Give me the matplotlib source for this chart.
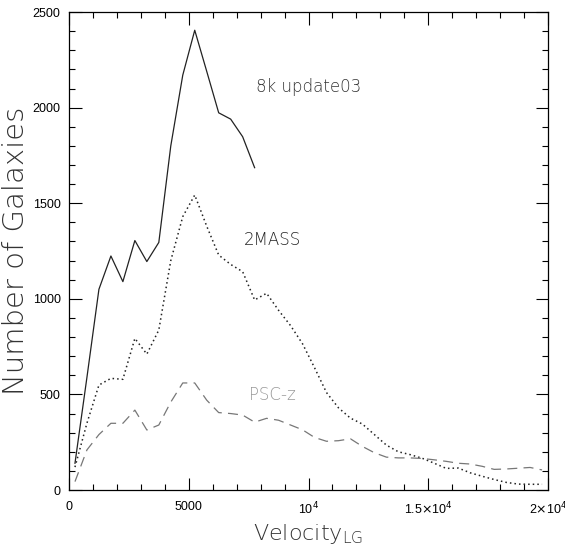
import numpy as np
import matplotlib
matplotlib.use("Agg")
import matplotlib.pyplot as plt
from matplotlib.ticker import MultipleLocator, FixedLocator, FixedFormatter

# bin centres (km/s)
vel_8k = [250, 750, 1250, 1750, 2250, 2750, 3250, 3750, 4250, 4750, 5250,
          5750, 6250, 6750, 7250, 7750]
n_8k = [140, 590, 1050, 1224, 1090, 1305, 1195, 1295, 1800, 2170, 2405,
        2190, 1973, 1940, 1848, 1686]

vel_all = [250 + 500 * i for i in range(40)]
n_2mass = [120, 350, 549, 584, 579, 793, 711, 837, 1200, 1430, 1543,
           1380, 1229, 1180, 1142, 994, 1029, 940, 860, 765, 640,
           510, 430, 376, 345, 290, 235, 200, 185, 166, 140,
           113, 115, 90, 72, 55, 40, 31, 30, 30]
n_pscz = [44, 210, 290, 349, 349, 418, 314, 340, 460, 560, 560,
          470, 405, 400, 392, 355, 375, 365, 340, 315, 275,
          255, 258, 268, 228, 195, 172, 168, 168, 165, 158,
          150, 140, 136, 124, 108, 110, 114, 118, 105]

xticks = [0, 5000, 10000, 15000, 20000]
xticklabels = ["0", "5000", r"10$^4$", r"1.5$\times$10$^4$", r"2$\times$10$^4$"]

fig = plt.figure(figsize=(5.65, 5.48), dpi=100)
ax = fig.add_axes([0.1221, 0.1058, 0.8479, 0.8722])

ax.plot(vel_8k, n_8k, color="#222222", lw=0.9)
ax.plot(vel_all, n_2mass, color="#222222", lw=1.1, linestyle=(0, (1, 2)))
ax.plot(vel_all, n_pscz, color="#777777", lw=0.9, linestyle=(0, (8, 5)))

ax.set_xlim(0, 20000)
ax.set_ylim(0, 2500)
ax.xaxis.set_major_locator(FixedLocator(xticks))
ax.xaxis.set_major_formatter(FixedFormatter(xticklabels))
ax.xaxis.set_minor_locator(MultipleLocator(1000))
ax.yaxis.set_major_locator(MultipleLocator(500))
ax.yaxis.set_minor_locator(MultipleLocator(100))
ax.tick_params(which="both", direction="in", top=True, right=True,
               labelsize=9, width=0.8)
ax.tick_params(axis="x", pad=8)
ax.tick_params(axis="y", pad=6)
ax.tick_params(which="major", length=9)
ax.tick_params(which="minor", length=4)
for lab in ax.get_xticklabels() + ax.get_yticklabels():
    lab.set_family("Liberation Sans")
for s in ax.spines.values():
    s.set_linewidth(0.9)

ax.set_ylabel("Number of Galaxies", fontsize=21, family="DejaVu Sans",
              fontweight="light", color="#333333", labelpad=2)
ax.set_xlabel(r"Velocity$_{\mathregular{LG}}$", fontsize=16, family="DejaVu Sans",
              fontweight="light", color="#333333", labelpad=3)

ax.text(10000, 2080, "8k update03", fontsize=12, color="#333333",
        ha="center", fontweight="light")
ax.text(8500, 1280, "2MASS", fontsize=12, color="#222222", ha="center",
        fontweight="light")
ax.text(8500, 470, "PSC-z", fontsize=12, color="#999999", ha="center",
        fontweight="light")

fig.savefig("out.png", dpi=100)
